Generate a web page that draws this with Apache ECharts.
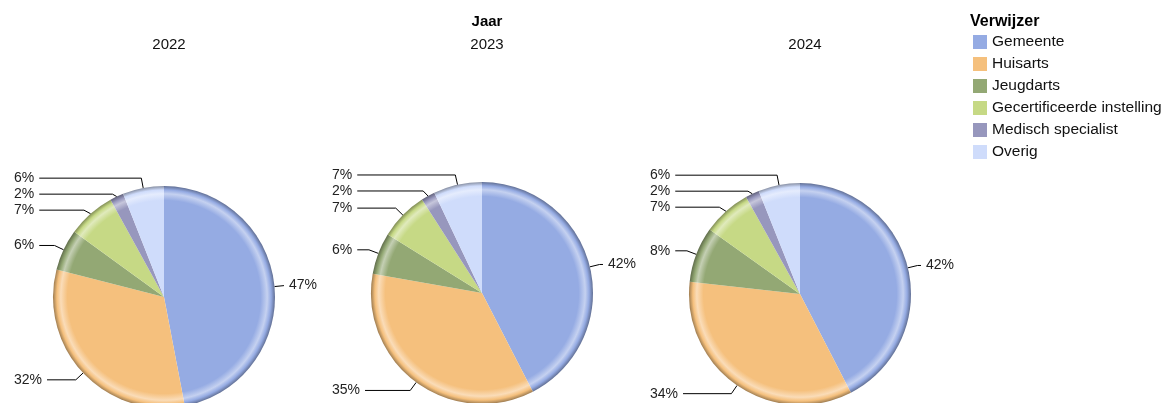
<!DOCTYPE html>
<html>
<head>
    <meta charset="utf-8">
    <title>Verwijzer per jaar</title>
    <style>
        html, body { margin: 0; padding: 0; background: #fff; }
        #main { width: 1168px; height: 403px; }
    </style>
</head>
<body>
    <div id="main"></div>
    <script src="https://cdn.jsdelivr.net/npm/echarts@6/dist/echarts.min.js"></script>
    <script type="text/javascript">

        const CATEGORIES = ['Gemeente', 'Huisarts', 'Jeugdarts', 'Gecertificeerde instelling', 'Medisch specialist', 'Overig'];
        const YEARS = ['2022', '2023', '2024'];
        const VALUES_2022 = [47, 32, 6, 7, 2, 6];
        const VALUES_2023 = [42, 35, 6, 7, 2, 7];
        const VALUES_2024 = [42, 34, 8, 7, 2, 6];
        const VALUES = [VALUES_2022, VALUES_2023, VALUES_2024];

        const COLORS = ['#95abe3', '#f5c07d', '#93a874', '#c6d985', '#9797bd', '#cfdcfb'];
        const FONT = '"Liberation Sans", Arial, sans-serif';

        // viewport of each pie (labels align to its edges)
        const BOXES = [
            {left: 0, width: 331, cy: 297},
            {left: 318, width: 332, cy: 293},
            {left: 636, width: 332, cy: 294}
        ];
        const CX = 164;
        const RADIUS = 111;

        function mix(hex, target, t) {
            let c = parseInt(hex.slice(1), 16);
            let r = (c >> 16) & 255, g = (c >> 8) & 255, b = c & 255;
            let tr = (target >> 16) & 255, tg = (target >> 8) & 255, tb = target & 255;
            r = Math.round(r + (tr - r) * t);
            g = Math.round(g + (tg - g) * t);
            b = Math.round(b + (tb - b) * t);
            return 'rgb(' + r + ',' + g + ',' + b + ')';
        }

        // radial shading so the pie looks a bit "rounded"
        function shade(color, box) {
            return new echarts.graphic.RadialGradient(box.left + CX, box.cy, RADIUS, [
                {offset: 0, color: color},
                {offset: 0.87, color: color},
                {offset: 0.93, color: mix(color, 0xffffff, 0.45)},
                {offset: 0.965, color: color},
                {offset: 1, color: mix(color, 0x000000, 0.35)}
            ], true);
        }

        let titles = [{
            text: 'Jaar',
            left: 482,
            top: 9,
            textAlign: 'center',
            textStyle: {fontFamily: FONT, fontSize: 15, fontWeight: 'bold', color: '#000'}
        }, {
            text: 'Verwijzer',
            left: 965,
            top: 9,
            textStyle: {fontFamily: FONT, fontSize: 16, fontWeight: 'bold', color: '#000'}
        }];

        let series = [];
        for (let i = 0; i < YEARS.length; i++) {
            const box = BOXES[i];
            titles.push({
                text: YEARS[i],
                left: box.left + CX,
                top: 32,
                textAlign: 'center',
                textStyle: {fontFamily: FONT, fontSize: 15, fontWeight: 'normal', color: '#111'}
            });
            let data = [];
            for (let j = 0; j < CATEGORIES.length; j++) {
                data.push({
                    name: CATEGORIES[j],
                    value: VALUES[i][j],
                    itemStyle: {color: shade(COLORS[j], box)}
                });
            }
            series.push({
                name: YEARS[i],
                type: 'pie',
                left: box.left,
                top: 0,
                width: box.width,
                height: 403,
                center: [CX, box.cy],
                radius: RADIUS,
                startAngle: 90,
                clockwise: true,
                silent: true,
                data: data,
                label: {
                    show: true,
                    position: 'outside',
                    alignTo: 'edge',
                    edgeDistance: 14,
                    overflow: 'none',
                    formatter: '{c}%',
                    fontFamily: FONT,
                    fontSize: 14,
                    color: '#222'
                },
                labelLine: {
                    show: true,
                    length: 10,
                    length2: 8,
                    lineStyle: {color: '#000', width: 1}
                }
            });
        }

        let myChart = echarts.init(document.getElementById('main'));
        myChart.setOption({
            animation: false,
            color: COLORS,
            title: titles,
            legend: {
                orient: 'vertical',
                left: 968,
                top: 29,
                icon: 'rect',
                itemWidth: 14,
                itemHeight: 14,
                itemGap: 6,
                selectedMode: false,
                data: CATEGORIES.map(function (name, j) {
                    return {name: name, itemStyle: {color: COLORS[j]}};
                }),
                textStyle: {fontFamily: FONT, fontSize: 15.5, color: '#111'}
            },
            series: series
        });

    </script>
</body>
</html>
